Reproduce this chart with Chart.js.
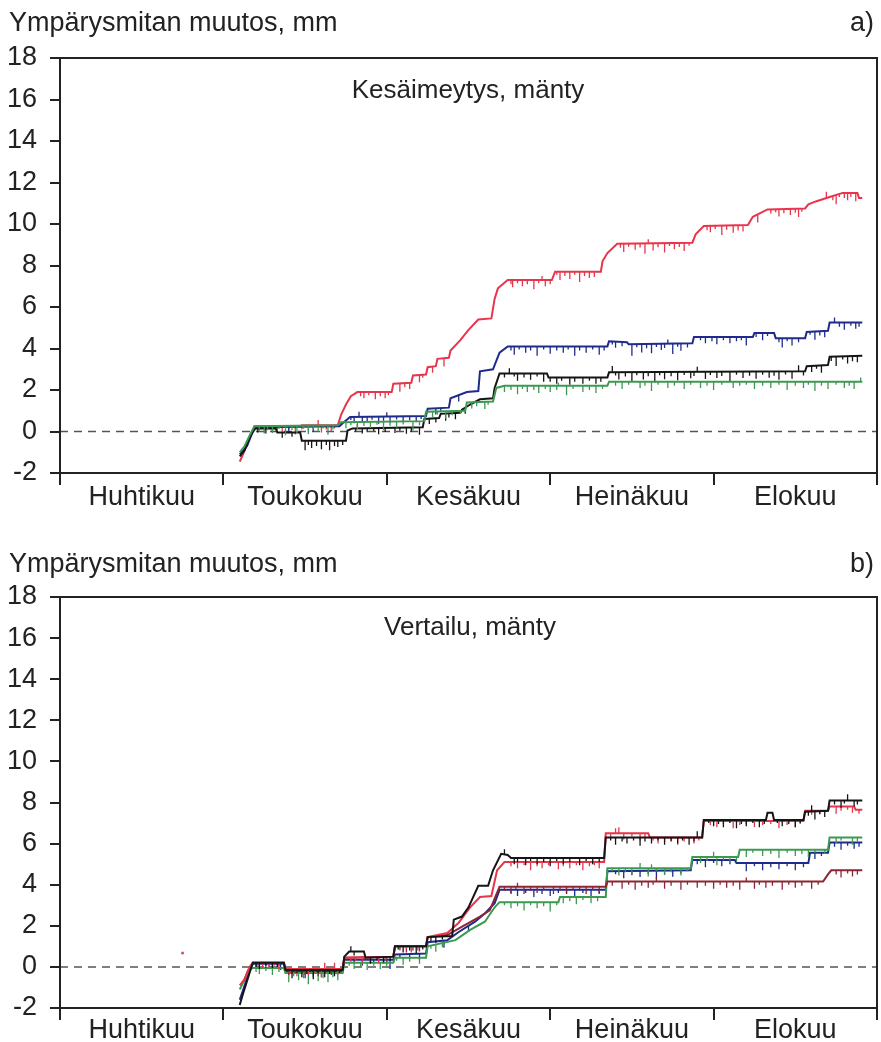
<!DOCTYPE html>
<html>
<head>
<meta charset="utf-8">
<script src="https://cdn.jsdelivr.net/npm/chart.js@4.4.0/dist/chart.umd.min.js"></script>
<style>
  html, body { margin: 0; padding: 0; background: #fff; }
  #wrap { position: relative; width: 881px; height: 1042px; }
  canvas { position: absolute; left: 0; }
  #chartA { top: 0; }
  #chartB { top: 521px; }
</style>
</head>
<body>
<div id="wrap">
  <canvas id="chartA" width="881" height="521"></canvas>
  <canvas id="chartB" width="881" height="521"></canvas>
</div>
<script>
// Month labels; x runs in months from the start of April (0 = 1.4., 5 = 1.9.)
const monthNames = ['Huhtikuu', 'Toukokuu', 'Kesäkuu', 'Heinäkuu', 'Elokuu'];
const yMin = -2, yMax = 18, yStep = 2;

// ---- a) Kesäimeytys, mänty : breakpoints [month, mm] ----
const aRed = [[1.10,-1.45],[1.12,-1.1],[1.145,-0.6],[1.165,-0.2],[1.19,0.25],[1.47,0.25],[1.48,0.3],[1.70,0.3],[1.72,0.8],[1.75,1.3],[1.78,1.7],[1.82,1.9],[2.03,1.9],[2.04,2.3],[2.15,2.35],[2.16,2.7],[2.24,2.75],[2.25,3.1],[2.30,3.15],[2.31,3.5],[2.38,3.55],[2.39,3.9],[2.45,4.4],[2.50,4.9],[2.56,5.4],[2.64,5.45],[2.66,6.4],[2.68,6.9],[2.74,7.3],[3.01,7.3],[3.03,7.7],[3.31,7.7],[3.32,8.2],[3.35,8.6],[3.41,9.05],[3.87,9.1],[3.89,9.5],[3.94,9.9],[4.21,9.95],[4.24,10.35],[4.33,10.7],[4.56,10.75],[4.58,10.95],[4.63,11.1],[4.71,11.3],[4.79,11.5],[4.88,11.5],[4.89,11.25],[4.91,11.25]];
const aBlue = [[1.10,-1.1],[1.145,-0.7],[1.175,-0.1],[1.20,0.2],[1.71,0.25],[1.73,0.4],[1.775,0.7],[2.24,0.75],[2.25,1.1],[2.38,1.15],[2.39,1.6],[2.49,1.9],[2.56,1.95],[2.57,2.9],[2.65,3.0],[2.66,3.2],[2.69,3.8],[2.74,4.1],[3.35,4.1],[3.36,4.35],[3.47,4.3],[3.48,4.2],[3.87,4.25],[3.88,4.55],[4.24,4.55],[4.25,4.75],[4.37,4.75],[4.38,4.5],[4.56,4.5],[4.57,4.8],[4.70,4.85],[4.71,5.25],[4.91,5.25]];
const aBlack = [[1.10,-1.2],[1.13,-0.9],[1.16,-0.3],[1.19,0.15],[1.32,0.15],[1.33,-0.05],[1.47,-0.05],[1.48,-0.45],[1.75,-0.45],[1.76,0.05],[1.79,0.15],[2.22,0.2],[2.23,0.6],[2.32,0.65],[2.33,0.85],[2.45,0.9],[2.46,1.05],[2.51,1.3],[2.57,1.55],[2.65,1.6],[2.66,2.1],[2.69,2.8],[2.98,2.8],[2.99,2.6],[3.35,2.6],[3.36,2.85],[4.56,2.9],[4.57,3.15],[4.70,3.2],[4.71,3.6],[4.91,3.65]];
const aGreen = [[1.10,-1.0],[1.13,-0.7],[1.16,-0.2],[1.19,0.25],[1.70,0.3],[1.72,0.45],[2.23,0.5],[2.24,0.95],[2.48,1.0],[2.49,1.4],[2.65,1.45],[2.67,2.1],[2.72,2.2],[3.35,2.2],[3.36,2.4],[4.91,2.4]];

// short drops (+) and jumps (-) in the readings, [month, mm]
const aRedDips = [[1.22,0.2],[1.25,0.3],[1.29,0.15],[1.33,0.2],[1.36,0.25],[1.4,0.15],[1.44,0.4],[1.48,0.2],[1.52,0.3],[1.55,0.15],[1.58,-0.25],[1.6,0.35],[1.63,0.2],[1.66,0.3],[1.68,0.15],[1.84,0.2],[1.86,0.3],[1.89,0.15],[1.93,0.35],[1.96,0.2],[1.99,0.3],[2.01,0.15],[2.08,0.4],[2.11,0.2],[2.14,0.3],[2.2,0.35],[2.22,0.15],[2.28,0.3],[2.35,0.4],[2.76,0.2],[2.77,0.35],[2.8,0.15],[2.83,0.3],[2.86,0.2],[2.9,0.45],[2.93,0.15],[2.95,-0.2],[2.97,0.3],[3.0,0.2],[3.04,0.15],[3.06,0.4],[3.09,0.2],[3.12,0.35],[3.15,0.15],[3.18,0.5],[3.21,0.2],[3.24,0.3],[3.27,0.25],[3.43,0.2],[3.45,0.4],[3.48,0.15],[3.52,0.3],[3.55,0.2],[3.58,0.5],[3.6,-0.2],[3.63,0.35],[3.66,0.2],[3.7,0.45],[3.73,0.15],[3.76,0.3],[3.79,0.2],[3.82,0.4],[3.85,0.15],[3.96,0.2],[3.98,0.3],[4.01,0.15],[4.05,0.45],[4.08,0.2],[4.12,0.35],[4.15,0.25],[4.18,0.3],[4.27,0.4],[4.35,0.2],[4.38,0.15],[4.4,0.35],[4.43,0.2],[4.47,0.3],[4.5,0.2],[4.52,0.4],[4.54,0.15],[4.69,-0.3],[4.73,0.2],[4.75,0.45],[4.77,0.15],[4.8,0.25],[4.82,0.35],[4.84,0.2],[4.87,0.4]];
const aBlueDips = [[1.4,0.3],[1.55,0.25],[1.78,0.15],[1.8,0.3],[1.83,-0.25],[1.85,0.2],[1.88,0.25],[1.91,0.15],[1.95,0.35],[1.98,0.2],[2.0,-0.2],[2.02,0.3],[2.06,0.15],[2.1,0.25],[2.14,0.2],[2.18,0.3],[2.21,0.15],[2.3,0.3],[2.33,0.2],[2.44,0.3],[2.76,0.2],[2.78,0.4],[2.81,0.15],[2.85,0.3],[2.88,0.2],[2.92,0.45],[2.96,0.15],[3.0,0.35],[3.04,0.2],[3.08,0.3],[3.11,0.15],[3.15,0.45],[3.18,0.2],[3.22,0.3],[3.26,0.15],[3.3,0.4],[3.33,0.2],[3.38,0.15],[3.4,0.3],[3.44,0.2],[3.5,0.55],[3.53,0.15],[3.56,0.4],[3.59,0.2],[3.62,0.45],[3.65,0.15],[3.68,0.3],[3.7,0.2],[3.72,-0.2],[3.75,0.5],[3.78,0.15],[3.8,0.35],[3.84,0.2],[3.92,0.15],[3.95,0.3],[3.99,0.2],[4.02,0.35],[4.06,0.15],[4.1,0.3],[4.14,0.2],[4.17,0.15],[4.2,0.4],[4.26,0.2],[4.3,0.35],[4.33,0.15],[4.4,0.2],[4.42,0.45],[4.45,0.15],[4.48,0.35],[4.52,0.2],[4.59,0.15],[4.62,0.4],[4.65,0.2],[4.68,0.3],[4.74,-0.25],[4.77,0.2],[4.8,0.35],[4.84,0.15],[4.87,0.3],[4.89,0.2]];
const aBlackDips = [[1.21,0.2],[1.26,0.25],[1.3,0.2],[1.36,0.25],[1.42,0.2],[1.5,0.45],[1.52,0.2],[1.54,0.35],[1.57,0.25],[1.6,0.4],[1.63,0.2],[1.65,0.45],[1.68,0.25],[1.7,0.3],[1.73,0.2],[1.81,0.15],[1.82,-0.2],[1.85,0.25],[1.88,0.2],[1.92,0.15],[1.95,0.3],[1.99,0.2],[2.05,0.25],[2.08,0.15],[2.12,0.3],[2.15,0.2],[2.2,0.35],[2.26,0.25],[2.3,0.2],[2.36,0.35],[2.38,0.2],[2.42,0.3],[2.48,0.3],[2.72,0.2],[2.75,-0.25],[2.78,0.15],[2.8,0.35],[2.84,0.2],[2.88,0.3],[2.92,0.15],[2.96,0.4],[3.0,0.2],[3.04,0.3],[3.07,0.15],[3.12,0.35],[3.15,0.2],[3.2,0.3],[3.24,0.15],[3.28,0.3],[3.31,0.2],[3.38,-0.3],[3.4,0.15],[3.42,0.35],[3.46,0.2],[3.5,0.45],[3.53,0.15],[3.57,0.35],[3.6,0.2],[3.64,0.5],[3.67,0.15],[3.7,0.35],[3.74,0.2],[3.78,0.4],[3.82,0.15],[3.86,0.3],[3.88,0.2],[3.9,-0.25],[3.95,0.35],[3.98,0.15],[4.02,0.3],[4.05,0.2],[4.1,0.45],[4.14,0.15],[4.18,0.3],[4.22,0.2],[4.26,0.35],[4.3,0.15],[4.34,0.3],[4.37,0.2],[4.4,0.4],[4.44,0.15],[4.48,0.35],[4.52,-0.3],[4.55,0.2],[4.6,0.3],[4.63,0.15],[4.66,0.35],[4.72,0.2],[4.75,0.45],[4.79,0.15],[4.82,0.35],[4.85,0.25],[4.88,0.3]];
const aGreenDips = [[1.22,0.15],[1.25,0.35],[1.27,0.2],[1.3,0.3],[1.34,0.15],[1.38,0.45],[1.42,0.2],[1.45,0.35],[1.49,0.15],[1.52,0.4],[1.55,0.2],[1.58,0.3],[1.61,0.15],[1.64,0.45],[1.67,0.2],[1.75,0.3],[1.78,0.15],[1.82,0.35],[1.86,0.2],[1.9,0.3],[1.94,0.15],[1.98,0.4],[2.02,0.2],[2.06,0.3],[2.1,0.15],[2.16,0.45],[2.2,0.2],[2.28,0.3],[2.31,0.15],[2.36,0.35],[2.4,0.2],[2.45,0.15],[2.52,0.3],[2.55,0.2],[2.6,0.35],[2.62,0.15],[2.72,0.3],[2.76,0.2],[2.8,0.4],[2.83,0.15],[2.86,0.3],[2.9,0.2],[2.93,0.35],[2.97,0.15],[3.0,0.3],[3.04,0.2],[3.05,-0.15],[3.1,0.45],[3.14,0.15],[3.2,0.3],[3.24,0.2],[3.28,0.35],[3.32,0.15],[3.4,0.2],[3.44,0.35],[3.48,0.15],[3.55,0.3],[3.58,0.2],[3.62,0.45],[3.66,0.15],[3.72,0.3],[3.76,0.2],[3.82,0.35],[3.86,0.15],[3.92,0.3],[3.96,0.2],[4.0,0.4],[4.05,0.15],[4.12,0.3],[4.16,0.2],[4.2,0.15],[4.25,0.35],[4.3,0.2],[4.35,0.3],[4.4,0.15],[4.45,0.4],[4.5,0.2],[4.55,0.3],[4.58,0.15],[4.62,0.45],[4.66,0.2],[4.7,0.35],[4.75,0.15],[4.8,0.3],[4.83,0.2],[4.86,0.35],[4.9,-0.2]];

// ---- b) Vertailu, mänty : breakpoints [month, mm] ----
const bBlack = [[1.10,-1.85],[1.12,-1.3],[1.14,-0.8],[1.16,-0.3],[1.18,0.2],[1.37,0.2],[1.38,-0.15],[1.73,-0.15],[1.74,0.5],[1.77,0.75],[1.86,0.75],[1.87,0.45],[2.04,0.5],[2.05,1.0],[2.24,1.0],[2.25,1.45],[2.40,1.5],[2.41,2.3],[2.46,2.45],[2.50,2.9],[2.56,3.95],[2.62,3.95],[2.65,4.7],[2.70,5.5],[2.74,5.45],[2.76,5.3],[3.33,5.3],[3.34,6.3],[3.93,6.3],[3.94,7.15],[4.32,7.15],[4.33,7.5],[4.36,7.5],[4.37,7.15],[4.55,7.15],[4.56,7.55],[4.70,7.6],[4.71,8.1],[4.91,8.1]];
const bRed = [[1.10,-0.9],[1.13,-0.6],[1.16,0.0],[1.18,0.2],[1.37,0.2],[1.38,-0.1],[1.73,-0.1],[1.74,0.45],[2.04,0.5],[2.05,1.0],[2.24,1.0],[2.25,1.45],[2.37,1.65],[2.44,2.15],[2.51,2.9],[2.57,3.4],[2.64,3.45],[2.675,4.7],[2.72,5.1],[3.33,5.1],[3.34,6.5],[3.60,6.5],[3.61,6.3],[3.93,6.3],[3.94,7.1],[4.55,7.1],[4.56,7.6],[4.70,7.6],[4.71,7.8],[4.86,7.8],[4.87,7.65],[4.91,7.65]];
const bRedEarly = [[0.75,0.68]];
const bMaroon = [[1.125,-0.7],[1.15,-0.2],[1.18,0.2],[1.37,0.2],[1.38,-0.1],[1.73,-0.1],[1.74,0.45],[2.04,0.5],[2.05,1.0],[2.24,1.0],[2.25,1.45],[2.37,1.55],[2.48,2.05],[2.57,2.45],[2.63,2.75],[2.69,3.9],[3.34,3.9],[3.35,4.15],[4.67,4.15],[4.70,4.5],[4.72,4.7],[4.91,4.7]];
const bBlue = [[1.10,-1.6],[1.13,-0.9],[1.16,-0.2],[1.18,0.15],[1.37,0.15],[1.38,-0.2],[1.73,-0.2],[1.74,0.35],[2.04,0.35],[2.05,0.6],[2.24,0.65],[2.25,1.2],[2.37,1.3],[2.44,1.7],[2.54,2.2],[2.60,2.6],[2.66,3.1],[2.69,3.75],[3.34,3.75],[3.35,4.65],[3.86,4.7],[3.87,5.2],[4.13,5.2],[4.14,5.05],[4.58,5.05],[4.59,5.55],[4.70,5.55],[4.71,6.05],[4.91,6.05]];
const bGreen = [[1.10,-1.1],[1.13,-0.6],[1.16,-0.1],[1.18,-0.05],[1.37,-0.05],[1.38,-0.3],[1.73,-0.3],[1.74,0.2],[2.04,0.2],[2.05,0.45],[2.24,0.45],[2.25,1.0],[2.42,1.3],[2.51,1.8],[2.60,2.2],[2.66,2.9],[2.69,3.15],[3.05,3.15],[3.06,3.4],[3.34,3.4],[3.35,4.8],[3.86,4.8],[3.87,5.35],[4.15,5.35],[4.16,5.7],[4.70,5.7],[4.71,6.3],[4.91,6.3]];

const bBlackDips = [[1.2,0.2],[1.22,0.3],[1.26,0.15],[1.3,0.25],[1.33,0.2],[1.42,0.4],[1.45,0.15],[1.48,0.35],[1.51,0.2],[1.55,0.45],[1.58,0.15],[1.62,0.35],[1.65,0.2],[1.68,0.3],[1.71,0.15],[1.78,-0.25],[1.8,0.2],[1.9,0.3],[1.94,0.15],[1.98,0.25],[2.02,0.2],[2.07,0.15],[2.1,0.3],[2.14,0.2],[2.18,0.35],[2.22,0.15],[2.27,0.2],[2.3,0.3],[2.34,0.15],[2.72,-0.25],[2.78,0.3],[2.8,0.2],[2.85,0.35],[2.88,0.15],[2.92,0.3],[2.96,0.2],[3.0,0.4],[3.04,0.15],[3.08,0.3],[3.12,0.2],[3.18,0.35],[3.22,0.15],[3.26,0.3],[3.3,0.2],[3.37,0.15],[3.4,0.35],[3.44,0.2],[3.47,0.3],[3.51,0.15],[3.55,0.4],[3.58,0.2],[3.62,0.3],[3.66,0.15],[3.7,0.35],[3.74,0.2],[3.78,0.3],[3.81,0.15],[3.85,0.35],[3.88,0.2],[3.9,-0.3],[3.97,0.15],[4.0,0.3],[4.03,0.2],[4.06,0.35],[4.1,0.15],[4.14,0.4],[4.17,0.2],[4.2,0.3],[4.24,0.15],[4.28,0.35],[4.31,0.2],[4.39,0.15],[4.42,0.3],[4.46,0.2],[4.5,0.35],[4.53,0.15],[4.58,0.2],[4.6,-0.3],[4.62,0.4],[4.65,0.15],[4.68,0.3],[4.74,0.2],[4.78,0.35],[4.8,0.15],[4.82,-0.3],[4.86,0.3],[4.88,0.2]];
const bRedDips = [[1.21,0.15],[1.24,0.25],[1.28,0.2],[1.31,0.15],[1.34,0.3],[1.41,0.2],[1.45,0.35],[1.48,0.15],[1.52,0.3],[1.56,0.2],[1.6,0.4],[1.62,-0.3],[1.65,0.15],[1.68,-0.3],[1.7,0.3],[1.78,0.2],[1.81,0.15],[1.85,0.25],[1.9,0.2],[1.95,0.3],[1.99,0.15],[2.08,0.2],[2.12,0.15],[2.15,0.3],[2.19,0.2],[2.76,0.2],[2.8,0.3],[2.84,0.15],[2.88,0.4],[2.92,0.2],[2.95,0.3],[2.99,0.15],[3.05,0.35],[3.08,0.2],[3.12,0.3],[3.16,0.15],[3.2,0.4],[3.24,0.2],[3.27,0.15],[3.3,0.3],[3.37,0.2],[3.4,-0.25],[3.42,-0.3],[3.45,0.3],[3.5,0.15],[3.55,0.35],[3.58,0.2],[3.63,0.15],[3.66,0.3],[3.7,0.2],[3.74,0.15],[3.78,0.35],[3.82,0.2],[3.88,0.3],[3.91,0.15],[3.98,0.2],[4.02,0.3],[4.06,0.15],[4.12,0.35],[4.16,0.2],[4.2,0.15],[4.25,0.3],[4.3,0.2],[4.35,0.15],[4.4,0.35],[4.45,0.2],[4.5,0.3],[4.53,0.15],[4.6,0.2],[4.65,0.15],[4.75,0.35],[4.78,0.2],[4.82,0.15],[4.85,0.3],[4.89,0.2]];
const bMaroonDips = [[1.22,0.15],[1.26,0.25],[1.3,0.2],[1.34,0.15],[1.4,0.3],[1.44,0.2],[1.5,0.3],[1.54,0.15],[1.58,0.35],[1.62,0.2],[1.66,0.3],[1.7,0.15],[1.8,0.2],[1.86,0.15],[1.9,0.3],[1.95,0.2],[2.0,0.25],[2.08,0.15],[2.12,0.3],[2.16,0.2],[2.2,0.25],[2.72,0.2],[2.76,0.3],[2.79,0.15],[2.8,-0.2],[2.84,0.35],[2.88,0.2],[2.92,0.3],[2.96,0.15],[3.02,0.35],[3.06,0.2],[3.1,0.3],[3.14,0.15],[3.18,0.2],[3.22,0.35],[3.26,0.15],[3.3,0.3],[3.38,0.2],[3.44,0.35],[3.48,0.15],[3.52,0.4],[3.56,0.2],[3.6,0.3],[3.63,0.15],[3.65,-0.2],[3.7,0.35],[3.74,0.2],[3.8,0.4],[3.84,0.15],[3.9,0.3],[3.95,0.2],[4.0,0.35],[4.04,0.15],[4.08,0.3],[4.12,0.2],[4.16,0.4],[4.2,-0.2],[4.25,0.35],[4.28,0.15],[4.32,0.3],[4.36,0.2],[4.42,0.4],[4.46,0.15],[4.5,0.3],[4.54,0.2],[4.6,0.35],[4.64,0.15],[4.75,0.2],[4.78,0.35],[4.82,0.15],[4.85,0.3],[4.88,0.2]];
const bBlueDips = [[1.2,0.15],[1.28,0.2],[1.35,0.3],[1.42,0.15],[1.5,0.35],[1.55,0.2],[1.6,0.3],[1.66,0.15],[1.8,0.2],[1.85,0.3],[1.92,0.15],[1.98,0.2],[2.02,0.45],[2.08,0.15],[2.14,0.2],[2.2,0.3],[2.35,0.35],[2.5,0.3],[2.76,0.2],[2.8,0.3],[2.85,0.15],[2.9,0.35],[2.95,0.2],[3.0,0.3],[3.05,0.15],[3.1,0.2],[3.15,0.35],[3.2,0.15],[3.25,0.3],[3.3,0.2],[3.4,0.15],[3.45,0.35],[3.5,0.2],[3.55,0.3],[3.6,0.15],[3.65,0.4],[3.7,0.2],[3.75,0.3],[3.8,0.15],[3.9,0.2],[3.95,0.35],[4.0,0.15],[4.05,0.3],[4.1,0.2],[4.2,0.4],[4.25,0.15],[4.3,0.35],[4.35,0.2],[4.4,0.3],[4.45,0.15],[4.5,0.35],[4.55,0.2],[4.62,0.3],[4.66,0.15],[4.74,0.2],[4.78,0.35],[4.82,0.15],[4.86,0.3],[4.89,0.2]];
const bGreenDips = [[1.2,0.2],[1.22,0.3],[1.26,0.15],[1.3,0.35],[1.34,0.2],[1.4,0.45],[1.43,0.15],[1.46,0.35],[1.49,0.25],[1.52,0.55],[1.55,0.2],[1.58,0.4],[1.61,0.25],[1.64,0.45],[1.67,0.2],[1.7,0.35],[1.77,0.15],[1.8,0.3],[1.84,0.2],[1.88,0.35],[1.92,0.15],[1.96,0.3],[2.0,0.2],[2.06,0.15],[2.1,0.35],[2.14,0.2],[2.2,0.3],[2.27,0.15],[2.3,0.35],[2.34,0.2],[2.72,0.15],[2.76,0.3],[2.8,0.2],[2.84,0.4],[2.88,0.15],[2.92,0.3],[2.96,0.2],[3.0,0.45],[3.04,0.15],[3.08,0.3],[3.12,0.2],[3.16,0.35],[3.2,0.15],[3.25,0.3],[3.29,0.2],[3.38,0.15],[3.42,0.35],[3.46,0.2],[3.5,0.3],[3.55,-0.25],[3.6,0.4],[3.62,-0.2],[3.65,0.15],[3.7,0.3],[3.74,0.2],[3.8,0.35],[3.84,0.15],[3.92,0.3],[3.96,0.2],[4.0,-0.25],[4.02,0.4],[4.06,0.15],[4.1,0.3],[4.14,0.2],[4.2,0.35],[4.24,0.15],[4.3,0.3],[4.35,0.2],[4.4,0.4],[4.45,0.15],[4.5,0.3],[4.54,0.2],[4.58,0.35],[4.62,0.15],[4.68,0.2],[4.75,0.3],[4.78,0.15],[4.85,0.35],[4.88,0.2]];

const zeroLine = [[0, 0], [5, 0]];

const COLORS = {
  red: '#e8354b',
  blue: '#1f2b8c',
  black: '#151515',
  green: '#3c9a50',
  maroon: '#8c2633'
};
const FONT = '"Liberation Sans", Arial, Helvetica, sans-serif';
const INK = '#222';

function toPoints(arr) { return arr.map(([x, y]) => ({ x, y })); }

// value of a breakpoint line at x (linear between breakpoints)
function lineValueAt(line, x) {
  for (let i = 1; i < line.length; i++) {
    const [x0, y0] = line[i - 1], [x1, y1] = line[i];
    if (x <= x1) return x1 === x0 ? y1 : y0 + (y1 - y0) * (x - x0) / (x1 - x0);
  }
  return line[line.length - 1][1];
}

// vertical ticks from the line down (or up) to the reading, broken by nulls
function dipPoints(line, dips) {
  const pts = [];
  dips.forEach(([x, d]) => {
    const top = lineValueAt(line, x);
    pts.push({ x, y: top }, { x, y: top - d }, { x, y: null });
  });
  return pts;
}

function seriesSets(line, dips, color) {
  return [
    { data: toPoints(line), borderColor: color, borderWidth: 2, pointRadius: 0, tension: 0 },
    { data: dipPoints(line, dips), borderColor: color, borderWidth: 1.3, pointRadius: 0, spanGaps: false }
  ];
}

const panelText = {
  id: 'panelText',
  afterDraw(chart, args, o) {
    const ctx = chart.ctx;
    ctx.save();
    ctx.fillStyle = INK;
    ctx.textBaseline = 'alphabetic';
    ctx.font = '27px ' + FONT;
    ctx.textAlign = 'left';
    ctx.fillText(o.heading, 9, o.headingY);
    ctx.textAlign = 'right';
    ctx.fillText(o.letter, 874, o.headingY);
    ctx.font = '26px ' + FONT;
    ctx.textAlign = 'center';
    ctx.fillText(o.note, o.noteX, o.noteY);
    ctx.restore();
  }
};

const frame = {
  id: 'frame',
  afterDatasetsDraw(chart) {
    const { ctx, chartArea: a } = chart;
    ctx.save();
    ctx.strokeStyle = INK;
    ctx.lineWidth = 2;
    ctx.strokeRect(a.left, a.top, a.right - a.left, a.bottom - a.top);
    ctx.restore();
  }
};

function monthLabel(v) {
  const k = Math.round(v * 2);
  return k % 2 === 1 ? monthNames[(k - 1) / 2] : '';
}

function makeChart(id, datasets, p) {
  const all = datasets.concat([{
    data: toPoints(zeroLine), borderColor: '#555', borderWidth: 1.5,
    borderDash: [8, 6], pointRadius: 0, order: 99
  }]);
  return new Chart(document.getElementById(id), {
    type: 'line',
    data: { datasets: all },
    options: {
      responsive: false,
      animation: false,
      events: [],
      layout: { padding: { top: p.top, left: 0, right: 4, bottom: 0 } },
      plugins: {
        legend: { display: false },
        tooltip: { enabled: false },
        panelText: p.text
      },
      scales: {
        x: {
          type: 'linear', min: 0, max: 5,
          afterFit: s => { s.height = p.xHeight; },
          border: { display: true, color: INK, width: 2 },
          grid: {
            drawOnChartArea: false, drawTicks: true, tickLength: 12, lineWidth: 2,
            color: c => (c.tick && Math.round(c.tick.value * 2) % 2 === 0) ? INK : 'rgba(0,0,0,0)'
          },
          ticks: {
            stepSize: 0.5, autoSkip: false, maxRotation: 0, minRotation: 0,
            padding: p.labelPad, color: INK,
            font: { family: FONT, size: 27, lineHeight: 1 },
            callback: v => monthLabel(v)
          }
        },
        y: {
          min: yMin, max: yMax,
          afterFit: s => { s.width = 60; },
          border: { display: true, color: INK, width: 2 },
          grid: { drawOnChartArea: false, drawTicks: true, tickLength: 10, lineWidth: 2, color: INK },
          ticks: { stepSize: yStep, padding: 13, color: INK, font: { family: FONT, size: 27 } }
        }
      }
    },
    plugins: [frame, panelText]
  });
}

// a) green drawn top-most, then black, blue, red
makeChart('chartA', [].concat(
  seriesSets(aGreen, aGreenDips, COLORS.green),
  seriesSets(aBlack, aBlackDips, COLORS.black),
  seriesSets(aBlue, aBlueDips, COLORS.blue),
  seriesSets(aRed, aRedDips, COLORS.red)
), {
  top: 58, xHeight: 48, labelPad: -1,
  text: { heading: 'Ympärysmitan muutos, mm', letter: 'a)', headingY: 31,
          note: 'Kesäimeytys, mänty', noteX: 468, noteY: 98 }
});

// b) black top-most, then red, maroon, green, blue
makeChart('chartB', [].concat(
  seriesSets(bBlack, bBlackDips, COLORS.black),
  seriesSets(bRed, bRedDips, COLORS.red),
  [{ data: toPoints(bRedEarly), showLine: false, pointRadius: 1.5, pointBorderWidth: 0,
     pointBackgroundColor: '#d2506a', borderColor: '#d2506a' }],
  seriesSets(bMaroon, bMaroonDips, COLORS.maroon),
  seriesSets(bGreen, bGreenDips, COLORS.green),
  seriesSets(bBlue, bBlueDips, COLORS.blue)
), {
  top: 76, xHeight: 34, labelPad: -3,
  text: { heading: 'Ympärysmitan muutos, mm', letter: 'b)', headingY: 51,
          note: 'Vertailu, mänty', noteX: 470, noteY: 114 }
});
</script>
</body>
</html>
